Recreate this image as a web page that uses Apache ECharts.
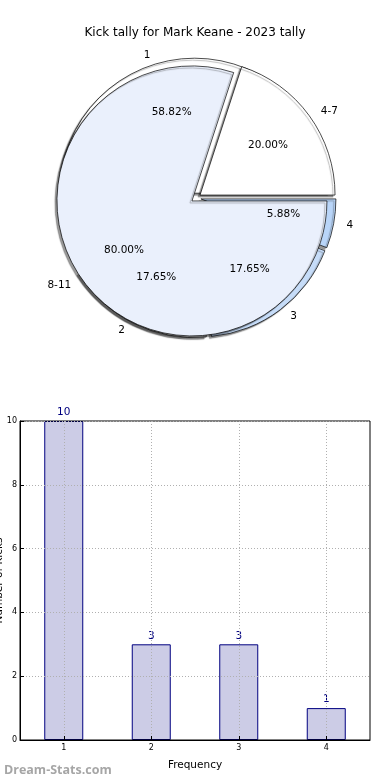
<!DOCTYPE html>
<html>
<head>
<meta charset="utf-8">
<script src="https://cdn.jsdelivr.net/npm/echarts@6/dist/echarts.min.js"></script>
<style>
html,body{margin:0;padding:0;background:#fff;}
#c{width:390px;height:780px;}
</style>
</head>
<body>
<div id="c"></div>
<script>
const titleText = 'Kick tally for Mark Keane - 2023 tally';
const pieCats = ['1', '2', '3', '4'];
const pieVals = [10, 3, 3, 1];
const pieColors = ['#ffffff', '#ffffff', '#c6dcf8', '#b9d5f8'];
const rangeCats = ['4-7', '8-11'];
const rangeVals = [1, 4];
const rangeColors = ['#ffffff', '#eaf0fc'];
const barCats = ['1', '2', '3', '4'];
const barVals = [10, 3, 3, 1];
const yTicks = [0, 2, 4, 6, 8, 10];
const xName = 'Frequency';
const yName = 'Number of Kicks';
const watermark = 'Dream-Stats.com';

const FONT = 'DejaVu Sans';
const CX = 196, CY = 198, R = 135, OFF = 5;

function pieData(cats, vals, colors) {
  return cats.map((c, i) => ({
    name: c, value: vals[i], selected: true,
    itemStyle: { color: colors[i] }
  }));
}
const baseItem = {
  borderColor: '#000', borderWidth: 0.7,
  shadowColor: 'rgba(0,0,0,0.4)', shadowBlur: 1, shadowOffsetX: -2, shadowOffsetY: 2
};
function mainPie(cats, vals, colors, z) {
  return {
    type: 'pie', center: [CX, CY], radius: [0, R], startAngle: 0, clockwise: false,
    selectedMode: 'multiple', selectedOffset: OFF, avoidLabelOverlap: false,
    silent: true, z: z, animation: false,
    itemStyle: baseItem,
    select: { itemStyle: baseItem },
    emphasis: { disabled: true },
    label: { show: true, position: 'outside', color: '#000', fontFamily: FONT, fontSize: 10.5,
      distanceToLabelLine: 5 },
    labelLine: { show: false, length: 8, length2: 0 },
    data: pieData(cats, vals, colors)
  };
}
function pctPie(cats, vals, z) {
  return {
    type: 'pie', center: [CX, CY], radius: [R * 0.2, R], startAngle: 0, clockwise: false,
    selectedMode: 'multiple', selectedOffset: OFF, avoidLabelOverlap: false,
    silent: true, z: z, animation: false,
    itemStyle: { color: 'rgba(0,0,0,0)', borderWidth: 0 },
    select: { itemStyle: { color: 'rgba(0,0,0,0)', borderWidth: 0 } },
    emphasis: { disabled: true },
    label: { show: true, position: 'inner', color: '#000', fontFamily: FONT, fontSize: 10.5,
      formatter: p => p.percent.toFixed(2) + '%' },
    labelLine: { show: false },
    data: cats.map((c, i) => ({ name: c, value: vals[i], selected: true }))
  };
}

const chart = echarts.init(document.getElementById('c'), null, { renderer: 'canvas' });
chart.setOption({
  animation: false,
  backgroundColor: '#fff',
  title: [
    { text: titleText, left: 'center', top: 22,
      textStyle: { fontFamily: FONT, fontSize: 12, fontWeight: 'normal', color: '#000' } },
    { text: watermark, left: -1, top: 759,
      textStyle: { fontFamily: 'Open Sans', fontSize: 12.5, fontWeight: 'bold', color: '#a6a6a6' } }
  ],
  grid: { left: 20, right: 20, top: 421, bottom: 40, containLabel: false, outerBoundsMode: 'none',
    show: true, borderColor: '#000', borderWidth: 1, backgroundColor: 'transparent', z: 3 },
  xAxis: {
    type: 'category', data: barCats, z: 3,
    name: xName, nameLocation: 'middle', nameGap: 20, nameMoveOverlap: false,
    nameTextStyle: { fontFamily: FONT, fontSize: 10.5, color: '#000' },
    axisLine: { lineStyle: { color: '#000' } },
    axisTick: { show: true, inside: true, alignWithLabel: true, length: 4, lineStyle: { color: '#000' } },
    axisLabel: { fontFamily: FONT, fontSize: 8, color: '#000', margin: 4 },
    splitLine: { show: true, alignWithLabel: true, lineStyle: { color: '#b0b0b0', type: [1, 2], width: 1 } }
  },
  yAxis: {
    type: 'value', min: yTicks[0], max: yTicks[yTicks.length - 1], interval: yTicks[1] - yTicks[0], z: 3,
    name: yName, nameLocation: 'middle', nameGap: 15.5, nameMoveOverlap: false,
    nameTextStyle: { fontFamily: FONT, fontSize: 10.5, color: '#000' },
    axisLine: { show: true, lineStyle: { color: '#000' } },
    axisTick: { show: true, inside: true, length: 4, lineStyle: { color: '#000' } },
    axisLabel: { fontFamily: FONT, fontSize: 8, color: '#000', margin: 3 },
    splitLine: { show: true, lineStyle: { color: '#b0b0b0', type: [1, 2], width: 1 } }
  },
  series: [
    mainPie(pieCats, pieVals, pieColors, 1),
    mainPie(rangeCats, rangeVals, rangeColors, 2),
    pctPie(pieCats, pieVals, 5),
    pctPie(rangeCats, rangeVals, 5),
    {
      type: 'bar', data: barVals, barWidth: 39, z: 1, silent: true,
      itemStyle: { color: '#cccce6', borderColor: '#000080', borderWidth: 1 },
      label: { show: true, position: 'top', distance: 3, color: '#000080', fontFamily: FONT, fontSize: 10.5 }
    }
  ]
});
</script>
</body>
</html>
